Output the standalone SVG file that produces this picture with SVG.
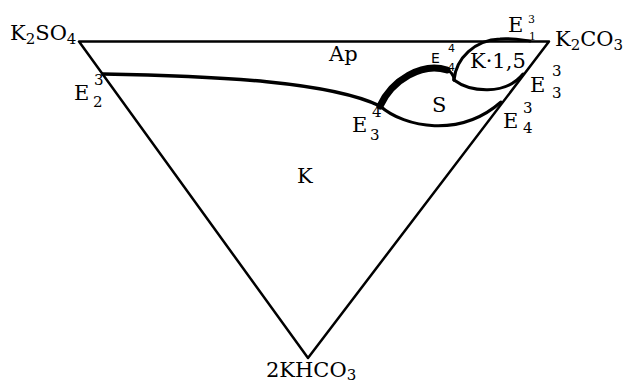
<svg xmlns="http://www.w3.org/2000/svg" width="628" height="385" viewBox="0 0 628 385">
<style>
.ln{fill:none;stroke:#000;stroke-linejoin:round;stroke-linecap:round}
</style>
<defs/>
<rect width="628" height="385" fill="#fff"/>
<g id="connectors">
<path class="ln" stroke-width="2.5" d="M79,41.5 L549,41.5 L308,358 Z"/>
<path class="ln" stroke-width="3.5" d="M103,74 C220,76 330,82 380,106"/>
<path class="ln" stroke-width="7" d="M380,106 C392,80 422,62 447,70"/>
<path class="ln" stroke-width="3" d="M446,69 C452,72 454,76 454,80"/>
<path class="ln" stroke-width="3" d="M454,80 C456,58 475,40 500,39 C512,38 522,40 530,41"/>
<path class="ln" stroke-width="3" d="M454,80 C470,92 505,96 523,74"/>
<path class="ln" stroke-width="3" d="M380,106 C405,128 460,138 501,102"/>
</g>
<g font-family="'DejaVu Serif', 'Liberation Serif', serif" font-size="21" fill="#000">
<g id="K2SO4"><text x="10" y="40">K<tspan font-size="15" dy="4">2</tspan><tspan dy="-4">SO</tspan><tspan font-size="15" dy="4">4</tspan></text></g>
<g id="K2CO3"><text x="555" y="46">K<tspan font-size="15" dy="4">2</tspan><tspan dy="-4">CO</tspan><tspan font-size="15" dy="4">3</tspan></text></g>
<g id="KHCO3"><text x="266" y="377">2KHCO<tspan font-size="15" dy="3">3</tspan></text></g>
<g id="E2"><text x="74" y="100">E</text><text font-size="15" x="94" y="85">3</text><text font-size="15" x="93" y="107">2</text></g>
<g id="Ap"><text x="329" y="61">Ap</text></g>
<g id="K15"><text x="470" y="68">K·1,5</text></g>
<g id="S"><text x="432" y="112">S</text></g>
<g id="K"><text x="297" y="183">K</text></g>
<g id="E34"><text x="352" y="132">E</text><text font-size="15" x="372" y="117">4</text><text font-size="15" x="370" y="140">3</text></g>
<g id="E33"><text x="530" y="92">E</text><text font-size="15" x="552" y="76">3</text><text font-size="15" x="552" y="98">3</text></g>
<g id="E43"><text x="503" y="128">E</text><text font-size="15" x="523" y="113">3</text><text font-size="15" x="523" y="133">4</text></g>
<g id="E13"><text x="508" y="32">E</text><text font-size="11" x="528" y="23">3</text><text font-size="11" x="529" y="40">1</text></g>
</g>
<g id="E44" font-family="'DejaVu Sans', 'Liberation Sans', sans-serif" fill="#000"><text font-size="14" x="431" y="63">E</text><text font-size="11" x="448" y="52">4</text><text font-size="11" x="448" y="71">4</text></g>
</svg>
